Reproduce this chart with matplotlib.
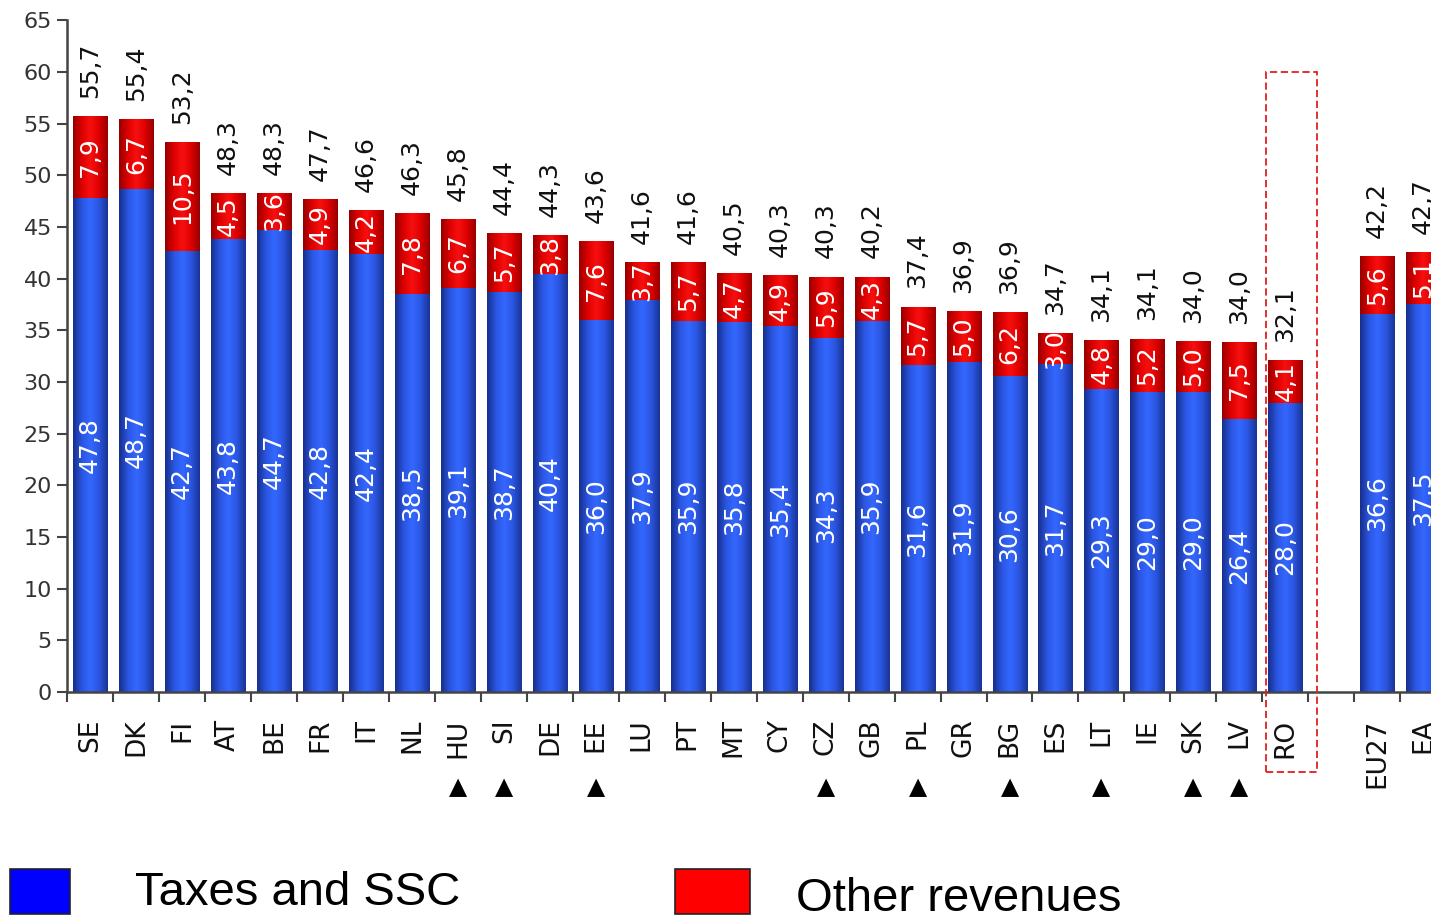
import numpy as np
import matplotlib
matplotlib.use("Agg")
import matplotlib.pyplot as plt
from matplotlib.colors import LinearSegmentedColormap
from matplotlib.patches import Rectangle

countries = ["SE", "DK", "FI", "AT", "BE", "FR", "IT", "NL", "HU", "SI", "DE", "EE", "LU",
             "PT", "MT", "CY", "CZ", "GB", "PL", "GR", "BG", "ES", "LT", "IE", "SK", "LV",
             "RO", "", "EU27", "EA"]
taxes = [47.8, 48.7, 42.7, 43.8, 44.7, 42.8, 42.4, 38.5, 39.1, 38.7, 40.4, 36.0, 37.9,
         35.9, 35.8, 35.4, 34.3, 35.9, 31.6, 31.9, 30.6, 31.7, 29.3, 29.0, 29.0, 26.4,
         28.0, np.nan, 36.6, 37.5]
other = [7.9, 6.7, 10.5, 4.5, 3.6, 4.9, 4.2, 7.8, 6.7, 5.7, 3.8, 7.6, 3.7,
         5.7, 4.7, 4.9, 5.9, 4.3, 5.7, 5.0, 6.2, 3.0, 4.8, 5.2, 5.0, 7.5,
         4.1, np.nan, 5.6, 5.1]
totals = [55.7, 55.4, 53.2, 48.3, 48.3, 47.7, 46.6, 46.3, 45.8, 44.4, 44.3, 43.6, 41.6,
          41.6, 40.5, 40.3, 40.3, 40.2, 37.4, 36.9, 36.9, 34.7, 34.1, 34.1, 34.0, 34.0,
          32.1, np.nan, 42.2, 42.7]
marked = ["HU", "SI", "EE", "CZ", "PL", "BG", "LT", "SK", "LV"]
highlight = "RO"
legend_labels = ["Taxes and SSC", "Other revenues"]

def fmt(v):
    return f"{v:.1f}".replace(".", ",")

plt.rcParams['font.family'] = ['DejaVu Sans']

fig = plt.figure(figsize=(14.31, 9.19), dpi=100)
ax = fig.add_axes([0.047, 0.247, 0.953, 0.731])

x = np.arange(len(countries))
w = 0.74
blue_bars = ax.bar(x, taxes, width=w, color="#2b57e6", zorder=2)
red_bars = ax.bar(x, other, bottom=taxes, width=w, color="#e00000", zorder=2)

blue_cmap = LinearSegmentedColormap.from_list(
    "b", ["#172f8c", "#2a55e0", "#3468ff", "#2a55e0", "#1a3495"])
red_cmap = LinearSegmentedColormap.from_list(
    "r", ["#960000", "#dd0000", "#f81010", "#dd0000", "#980000"])

grad = np.linspace(0, 1, 64).reshape(1, -1)
for bars, cm in ((blue_bars, blue_cmap), (red_bars, red_cmap)):
    for b in bars:
        if not np.isfinite(b.get_height()):
            continue
        x0, y0 = b.get_x(), b.get_y()
        bw, bh = b.get_width(), b.get_height()
        im = ax.imshow(grad, cmap=cm, extent=(x0, x0 + bw, y0, y0 + bh),
                       aspect="auto", interpolation="bicubic", zorder=2.5)
        im.set_clip_path(b)

# value labels
for i in range(len(countries)):
    if not np.isfinite(taxes[i]):
        continue
    ax.text(x[i], taxes[i] / 2, fmt(taxes[i]), rotation=90, ha="center", va="center",
            color="white", fontsize=18, zorder=4)
    ax.text(x[i], taxes[i] + other[i] / 2, fmt(other[i]), rotation=90, ha="center",
            va="center", color="white", fontsize=18, zorder=4)
    ax.annotate(fmt(totals[i]), (x[i], taxes[i] + other[i]), xytext=(0, 13),
                textcoords="offset points", rotation=90, ha="center", va="bottom",
                color="#111111", fontsize=18, zorder=4)

ax.set_yticks(np.arange(0, 66, 5))
ax.tick_params(axis="y", direction="out", length=7, width=1.5, color="#444444",
               labelsize=16, labelcolor="#333333", pad=4)

ax.set_xticks(x)
ax.set_xticklabels(countries, rotation=90, fontsize=19, color="#111111")
ax.set_xticks(np.arange(-0.5, len(countries), 1.0), minor=True)
ax.tick_params(axis="x", which="major", length=0, pad=19)
ax.tick_params(axis="x", which="minor", direction="out", length=7, width=1.5,
               color="#444444")
ax.set_xlim(-0.5, 29.17)
ax.set_ylim(0, 65)

for s in ("top", "right"):
    ax.spines[s].set_visible(False)
for s in ("left", "bottom"):
    ax.spines[s].set_color("#444444")
    ax.spines[s].set_linewidth(1.8)

# triangles under marked countries
for i, c in enumerate(countries):
    if c in marked:
        ax.text(x[i], -0.141, "\u25b2", transform=ax.get_xaxis_transform(),
                ha="center", va="center", fontsize=17, color="black")

# dashed highlight box around RO
ri = countries.index(highlight)
rect = Rectangle((ri - 0.43, -7.7), 1.12, 67.7, fill=False, edgecolor="#e02020",
                 linestyle=(0, (4, 2)), linewidth=1.3, clip_on=False, zorder=5)
ax.add_patch(rect)

# legend
fig.patches.append(Rectangle((0.007, 0.005), 0.042, 0.049, transform=fig.transFigure,
                             facecolor="#0000ff", edgecolor="#222222", linewidth=1.2))
fig.patches.append(Rectangle((0.472, 0.005), 0.052, 0.049, transform=fig.transFigure,
                             facecolor="#ff0000", edgecolor="#222222", linewidth=1.2))
legfont = ["Liberation Sans Narrow", "Liberation Sans", "DejaVu Sans"]
fig.text(0.094, 0.028, legend_labels[0], fontsize=34, family=legfont, va="center",
         ha="left", color="black")
fig.text(0.556, 0.022, legend_labels[1], fontsize=34, family=legfont, va="center",
         ha="left", color="black")

fig.savefig("out.png", dpi=100)
